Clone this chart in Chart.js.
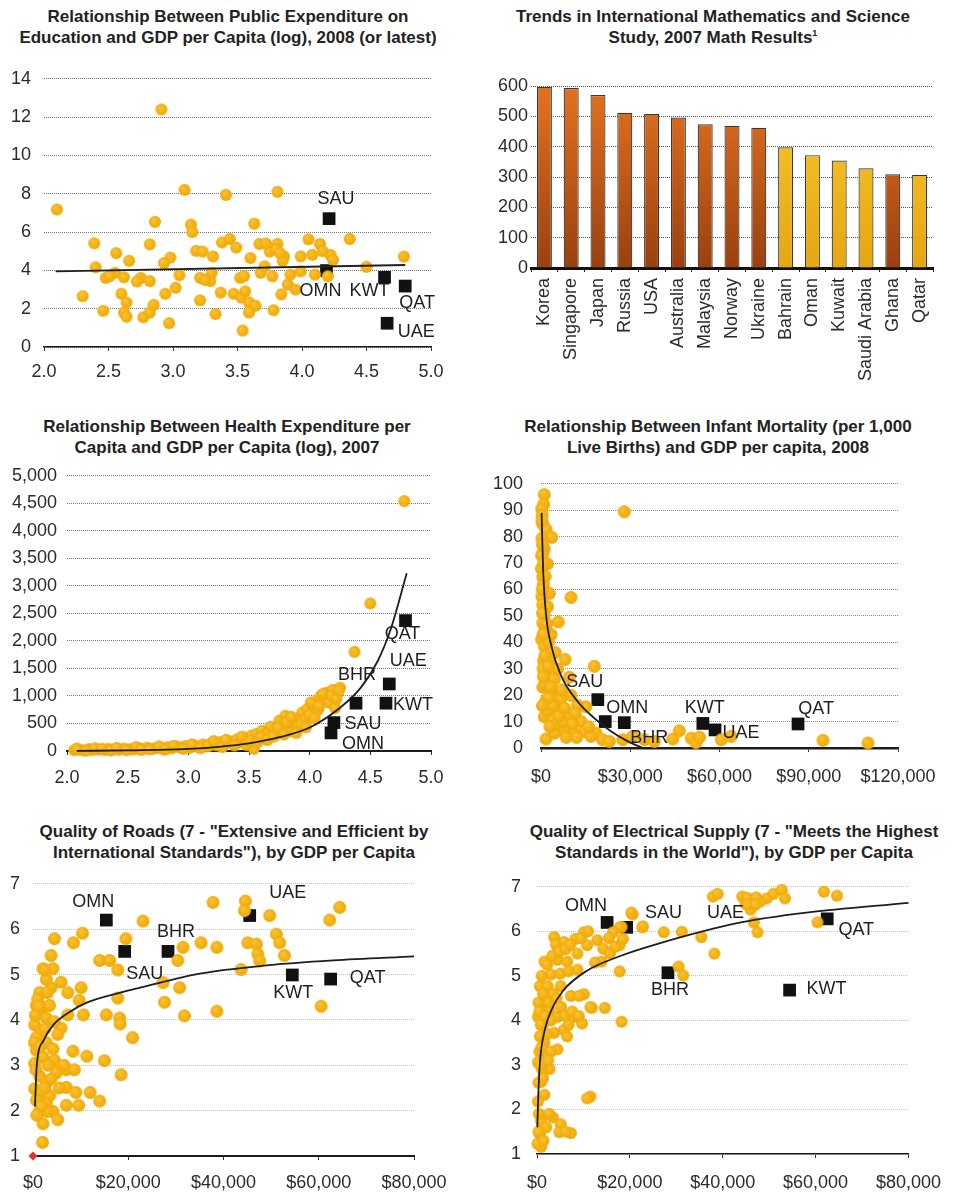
<!DOCTYPE html>
<html>
<head>
<meta charset="utf-8">
<title>GCC development indicators</title>
<script src="https://cdn.jsdelivr.net/npm/chart.js@4.4.0/dist/chart.umd.min.js"></script>
<style>
  html, body { margin: 0; padding: 0; background: #fff; }
  body { width: 955px; height: 1195px; position: relative; overflow: hidden;
         font-family: "Liberation Sans", Arial, Helvetica, sans-serif; }
  .title { position: absolute; width: 478px; text-align: center; font-weight: bold;
           font-size: 17px; line-height: 21px; color: #222; white-space: nowrap; }
  .title sup { font-size: 9px; line-height: 0; vertical-align: 7px; }
  canvas { position: absolute; }
</style>
</head>
<body>

<div class="title" style="left:-11px; top:6px;">Relationship Between Public Expenditure on<br>Education and GDP per Capita (log), 2008 (or latest)</div>
<div class="title" style="left:474px; top:6px;">Trends in International Mathematics and Science<br>Study, 2007 Math Results<sup>1</sup></div>
<div class="title" style="left:-12px; top:416px;">Relationship Between Health Expenditure per<br>Capita and GDP per Capita (log), 2007</div>
<div class="title" style="left:479px; top:416px;">Relationship Between Infant Mortality (per 1,000<br>Live Births) and GDP per capita, 2008</div>
<div class="title" style="left:-5px; top:821px;">Quality of Roads (7 - "Extensive and Efficient by<br>International Standards"), by GDP per Capita</div>
<div class="title" style="left:495px; top:821px;">Quality of Electrical Supply (7 - "Meets the Highest<br>Standards in the World"), by GDP per Capita</div>

<canvas id="edu"    width="478" height="345" style="left:0;     top:55px;"></canvas>
<canvas id="math"   width="477" height="345" style="left:478px; top:55px;"></canvas>
<canvas id="health" width="478" height="345" style="left:0;     top:455px;"></canvas>
<canvas id="mort"   width="477" height="345" style="left:478px; top:455px;"></canvas>
<canvas id="roads"  width="478" height="335" style="left:0;     top:860px;"></canvas>
<canvas id="power"  width="477" height="335" style="left:478px; top:860px;"></canvas>

<script>
// ---------------------------------------------------------------------------
// Data
// ---------------------------------------------------------------------------

// Public expenditure on education (% of GDP) vs log10 GDP per capita
const eduDots = [
  [2.10,7.18],[2.91,12.4],[3.09,8.2],[3.41,7.94],[3.81,8.1],[2.86,6.53],[3.14,6.39],[3.15,6.0],[3.63,6.44],[4.37,5.64],
  [2.39,5.41],[2.82,5.36],[3.38,5.46],[3.44,5.64],[3.49,5.19],[3.67,5.38],[3.81,5.38],[4.05,5.62],[4.14,5.38],[2.56,4.9],
  [2.66,4.5],[2.98,4.67],[3.18,5.02],[3.23,4.98],[3.31,4.73],[3.60,4.64],[3.75,4.98],[3.86,4.73],[3.99,4.73],[4.08,4.81],
  [4.22,4.81],[4.24,4.55],[4.79,4.72],[4.50,4.18],[2.40,4.16],[2.93,4.38],[2.48,3.61],[2.55,3.87],[2.62,3.64],[2.75,3.61],
  [2.82,3.44],[3.05,3.75],[3.21,3.61],[3.30,3.87],[3.29,3.44],[3.52,3.61],[3.68,3.87],[3.71,4.21],[3.77,3.69],[3.91,3.78],
  [3.99,3.95],[4.10,3.78],[4.20,3.69],[3.89,3.26],[3.95,3.0],[2.30,2.65],[2.60,2.78],[2.64,2.32],[2.94,2.78],[3.02,3.09],
  [3.37,2.84],[3.47,2.78],[3.53,2.58],[3.59,2.32],[3.64,2.15],[3.84,2.75],[3.21,2.44],[2.46,1.89],[2.62,1.80],[2.64,1.58],
  [2.77,1.55],[2.82,1.80],[2.85,2.20],[3.33,1.72],[3.59,1.80],[3.78,1.92],[2.97,1.24],[3.54,0.86],[3.56,2.90],[3.80,5.10],
  [3.85,4.50],[2.51,3.70],[2.72,3.42],[3.25,3.50],[3.55,3.70],[3.72,5.40],[3.83,4.90],[4.16,5.00]
];
const eduTrend = [[2.09,3.95],[4.80,4.28]];
const eduGccCodes = ['SAU','OMN','KWT','QAT','UAE'];
const eduGccX = [4.21, 4.19, 4.64, 4.80, 4.66];
const eduGccY = [6.70, 3.99, 3.64, 3.18, 1.24];

// TIMSS 2007 mathematics scores
const mathCountries = ['Korea','Singapore','Japan','Russia','USA','Australia','Malaysia','Norway','Ukraine',
                       'Bahrain','Oman','Kuwait','Saudi Arabia','Ghana','Qatar'];
const mathScores = [597, 593, 570, 512, 508, 496, 474, 469, 462, 398, 372, 354, 329, 309, 307];
const gccMembers = ['Bahrain','Oman','Kuwait','Saudi Arabia','Qatar'];

// Health expenditure per capita (USD) vs log10 GDP per capita
const healthDots = [
  [2.06,15],[2.09,28],[2.13,12],[2.18,35],[2.21,20],[2.26,26],[2.31,18],[2.34,40],[2.39,30],[2.43,22],
  [2.47,45],[2.52,33],[2.55,27],[2.59,50],[2.63,38],[2.66,60],[2.71,42],[2.74,55],[2.79,35],[2.83,70],
  [2.86,48],[2.91,80],[2.94,62],[2.98,90],[3.01,55],[3.05,100],[3.08,75],[3.12,120],[3.15,85],[3.19,140],
  [3.23,105],[3.26,160],[3.29,120],[3.33,185],[3.36,140],[3.40,210],[3.43,160],[3.46,240],[3.49,200],[3.52,280],
  [3.54,40],[3.56,310],[3.58,230],[3.61,370],[3.63,290],[3.66,330],[3.68,440],[3.71,380],[3.73,300],[3.75,550],
  [3.77,470],[3.80,640],[3.82,420],[3.84,360],[3.86,500],[3.88,560],[3.90,450],[3.92,620],[3.94,700],[3.96,560],
  [3.98,760],[4.00,650],[4.03,820],[4.05,900],[4.07,750],[4.09,1000],[4.12,960],[4.14,1060],[4.16,880],[4.19,1110],
  [4.21,780],[4.23,1050],[4.25,1150],[4.37,1800],[4.50,2680],[4.78,4540],
  [2.08,45],[2.16,8],[2.23,50],[2.29,40],[2.36,10],[2.41,55],[2.49,15],[2.57,70],[2.61,20],[2.68,30],
  [2.76,85],[2.81,25],[2.88,95],[2.96,40],[3.03,120],[3.10,50],[3.17,95],[3.21,180],[3.28,70],[3.31,200],
  [3.38,100],[3.44,260],[3.48,110],[3.51,180],[3.57,160],[3.60,250],[3.65,200],[3.70,260],[3.74,420],[3.79,300],
  [3.81,520],[3.85,620],[3.89,330],[3.93,480],[3.97,430],[4.01,880],[4.04,600],[4.08,820],[4.11,1040],[4.18,1000],
  [4.22,950],[4.24,1100]
];
const healthTrend = [[2.08,2],[2.5,10],[3.0,38],[3.25,75],[3.5,138],[3.75,250],[4.0,426],[4.25,786],
                     [4.42,1146],[4.56,1631],[4.67,2225],[4.80,3230]];
const healthGccCodes = ['QAT','UAE','KWT','BHR','SAU','OMN'];
const healthGccX = [4.79, 4.656, 4.629, 4.382, 4.20, 4.176];
const healthGccY = [2369, 1218, 869, 869, 516, 329];

// Infant mortality (per 1,000 live births) vs GDP per capita (USD)
const mortDots = [
  [1100,95.9],[900,92.2],[250,90.5],[28000,89.4],[600,84.7],[1700,82.8],[3600,79.7],[300,79.3],[1100,75.3],[600,73.5],
  [2200,69.7],[150,67.9],[600,64.8],[200,72.9],[2800,58.5],[10100,57.0],[300,57.3],[600,54.2],[2200,53.5],[1100,50.4],
  [5800,47.7],[600,47.3],[3400,43.0],[200,41.1],[1100,38.6],[4800,36.1],[8100,33.5],[900,33.0],[17900,30.9],[1700,29.3],
  [5600,29.9],[9500,26.8],[2800,26.2],[600,23.0],[3900,21.8],[10100,19.9],[6700,18.7],[1700,18.1],[15100,15.6],[12300,16.2],
  [5600,14.3],[1100,11.8],[9000,11.8],[3900,10.6],[13500,10.0],[6700,6.8],[9500,7.5],[14600,6.2],[18500,5.6],[20700,3.1],
  [23000,2.5],[1700,3.4],[27500,3.1],[30800,4.4],[34800,3.1],[38100,2.5],[44300,3.4],[46500,6.5],[50500,3.7],[52100,2.1],
  [53300,4.1],[60600,3.1],[63900,4.4],[94800,2.9],[109900,1.9],[4500,5.6],[11200,5.6],[16800,4.4],
  [400,88],[800,62],[1400,45],[2500,40],[700,30],[3000,33],[1500,24],[4500,26],[7000,22],[2000,14],
  [8000,15],[11500,13],[5000,9],[7500,10],[3000,8],
  [300,86],[500,77],[900,70],[400,60],[1400,65],[500,51],[2000,47],[700,43],[1300,35],[2500,31],
  [800,27],[3200,23],[4000,16],[2600,19],[500,16],[6000,12],[10500,9],[12000,4],[8500,4],[16000,8]
];
const mortTrend = [[200,89],[700,67.9],[1700,50.4],[3400,39],[6700,27.5],[12300,17.6],[17900,11.3],
                   [23500,6.3],[29200,2.5],[34200,0]];
const mortGccCodes = ['SAU','OMN','BHR','KWT','UAE','QAT'];
const mortGccX = [19100, 21600, 28000, 54400, 58500, 86400];
const mortGccY = [18.3, 10.0, 9.6, 9.3, 6.85, 9.1];

// Quality of roads score (1-7) vs GDP per capita (USD)
const roadDots = [
  [37800,6.59],[44600,6.62],[44400,6.41],[64400,6.48],[62300,6.20],[49700,6.30],[23100,6.18],[10400,5.91],[4500,5.79],[8500,5.70],
  [19500,5.79],[3800,5.42],[2100,5.13],[4200,5.13],[14000,5.31],[16100,5.31],[17800,5.10],[31500,5.60],[35300,5.70],[38600,5.60],
  [30400,5.31],[45100,5.70],[46900,5.67],[47200,5.45],[47600,5.30],[51100,5.89],[51800,5.70],[52800,5.42],[43700,5.11],[27300,4.82],
  [30800,4.71],[3800,4.71],[5900,4.83],[7300,4.60],[10100,4.71],[9700,4.43],[17800,4.48],[27600,4.39],[60500,4.30],[38600,4.19],
  [31800,4.09],[15400,4.11],[18200,4.04],[18300,3.91],[7300,4.11],[10600,4.11],[20900,3.61],[5900,3.82],[8400,3.31],[11300,3.20],
  [15000,3.10],[18500,2.79],[7000,2.51],[9000,2.40],[12000,2.40],[14000,2.21],[7000,2.12],[9600,2.12],[4200,1.98],[5200,1.80],
  [2100,1.71],[2000,1.30],
  [700,4.32],[2100,4.28],[3500,4.32],[1000,4.14],[2800,4.04],[350,3.89],[1700,3.75],[4500,3.96],[5200,3.68],[700,3.61],
  [2800,3.50],[4200,3.36],[700,3.33],[2100,3.18],[4500,3.11],[350,3.04],[5900,2.97],[7000,2.90],[8700,2.90],[4900,2.83],
  [1400,2.76],[2800,2.62],[350,2.48],[1700,2.40],[3500,2.33],[700,2.23],[2800,2.16],[1400,1.98],[3100,1.98],[1400,4.60],
  [2800,4.89],[1000,4.46],
  [500,4.10],[1200,4.30],[300,3.50],[1500,3.40],[2500,3.80],[3200,3.00],[3800,2.70],[600,2.90],[1800,2.10],[2500,2.50],
  [5500,2.50],[6500,3.00],[800,1.90],[3000,4.60],[2500,5.10]
];
const roadTrend = [[420,2.09],[770,2.97],[2170,3.54],[4270,3.89],[7770,4.18],[11270,4.38],[18300,4.60],
                   [22500,4.71],[35000,5.02],[49000,5.20],[63000,5.31],[80000,5.40]];
const roadGccCodes = ['OMN','SAU','BHR','UAE','KWT','QAT'];
const roadGccX = [15400, 19250, 28350, 45500, 54450, 62500];
const roadGccY = [6.20, 5.51, 5.51, 6.30, 4.99, 4.90];
const roadOrigin = [[0, 1]];

// Quality of electricity supply score (1-7) vs GDP per capita (USD)
const powerDots = [
  [37900,6.78],[38900,6.84],[44200,6.78],[44900,6.62],[49500,6.74],[50900,6.84],[52700,6.93],[53400,6.74],[48100,6.67],[46000,6.49],
  [45300,6.75],[47200,6.76],[45400,6.60],[47100,6.60],
  [46700,6.20],[47500,5.98],[61800,6.89],[64600,6.80],[60400,6.20],[38200,5.50],[35400,5.87],[31200,5.99],[27300,5.98],[22700,6.09],
  [20600,6.38],[20300,6.42],[18200,6.10],[17800,6.09],[30500,5.21],[31500,5.01],[17800,5.10],[14300,5.61],[17800,5.69],[15700,5.50],
  [13900,5.32],[10100,5.98],[8300,5.83],[5800,5.76],[3700,5.87],[4100,5.70],[1600,5.32],[4400,5.36],[6500,5.32],[8700,5.14],
  [3000,5.03],[600,4.77],[2300,4.77],[5100,4.77],[7300,4.55],[10100,4.59],[11800,4.28],[14600,4.28],[18200,3.97],[9700,3.93],
  [8000,4.08],[5800,3.79],[6500,3.64],[4400,4.08],[200,4.08],[3700,3.72],[1600,3.50],[4400,3.35],[2700,2.91],[1600,3.20],
  [600,3.64],[200,3.06],[900,2.62],[1600,2.33],[11500,2.29],[3400,1.82],[5100,1.67],[4800,1.49],[7300,1.47],[200,2.18],
  [900,1.74],[600,1.45],[900,1.16],[100,1.23],[1600,4.37],[2700,4.23],[10800,5.69],[8700,5.50],[16400,5.98],[18500,5.83],
  [22800,6.11],[300,2.6],[500,3.3],[1200,3.9],[300,4.4],[2000,4.5],[1100,2.9],[400,1.9],[2000,1.6],[2200,5.25],
  [3300,5.45],[5000,5.05],[6800,5.10],[1000,5.0],[9100,4.55],[11500,4.30],[10800,2.25],
  [500,4.20],[800,3.90],[1300,4.60],[1800,4.10],[2500,4.40],[3000,4.00],[3500,4.60],[4200,4.50],[5200,4.30],[6000,4.10],
  [6800,3.90],[7600,4.20],[9000,4.10],[700,3.00],[1300,2.70],[1000,3.40],[2200,3.70],[3000,3.30],[2400,3.10],[4800,5.55],
  [6200,5.60],[7200,5.70],[9500,5.85],[11000,6.00],[12500,5.30],[13000,5.80],[15500,5.85],[16800,5.65],[300,1.50],[1400,1.30],
  [2600,1.90],[6200,1.50]
];
const powerTrend = [[70,1.60],[280,2.33],[630,3.06],[1690,3.79],[3100,4.23],[5560,4.66],[10500,5.10],
                    [17500,5.43],[26000,5.72],[43900,6.20],[58000,6.42],[80000,6.64]];
const powerGccCodes = ['OMN','SAU','UAE','BHR','KWT','QAT'];
const powerGccX = [15100, 19300, 46200, 28200, 54400, 62500];
const powerGccY = [6.20, 6.09, 6.69, 5.07, 4.68, 6.28];

// ---------------------------------------------------------------------------
// Shared look
// ---------------------------------------------------------------------------
const FONT = '"Liberation Sans", Arial, Helvetica, sans-serif';
Chart.defaults.font.family = FONT;
Chart.defaults.color = '#2b2b2b';

const toXY = arr => arr.map(p => ({ x: p[0], y: p[1] }));
const zipXY = (xs, ys) => xs.map((x, i) => ({ x: x, y: ys[i] }));
const fmtDec = v => Number(v).toFixed(1);
const fmtComma = v => Number(v).toLocaleString('en-US');
const fmtDollar = v => '$' + Number(v).toLocaleString('en-US');

// Small softly shaded marker used for the country dots
function ballImage(r) {
  const size = Math.ceil(r * 2 + 2);
  const c = document.createElement('canvas');
  c.width = c.height = size;
  const g = c.getContext('2d');
  const m = size / 2;
  const grad = g.createRadialGradient(m - r * 0.3, m - r * 0.35, r * 0.1, m, m, r);
  grad.addColorStop(0, '#f9c232');
  grad.addColorStop(0.7, '#f3b010');
  grad.addColorStop(1, '#efa90a');
  g.fillStyle = grad;
  g.beginPath();
  g.arc(m, m, r, 0, Math.PI * 2);
  g.fill();
  return c;
}

function baseOptions(box, area) {
  return {
    responsive: false,
    animation: false,
    events: [],
    layout: { padding: { left: 0, top: area.T - box.top, right: box.left + box.w - area.R, bottom: 0 } },
    plugins: { legend: { display: false }, tooltip: { enabled: false }, title: { display: false } }
  };
}

// Scatter panel: trend line on top, country dots, GCC squares underneath, code tags
function scatterPanel(id, box, area, s) {
  const yW = area.L - box.left;
  const xH = box.top + box.h - area.B;
  const options = baseOptions(box, area);
  options.scales = {
    x: {
      type: 'linear', min: s.xMin, max: s.xMax,
      afterFit: sc => { sc.height = xH; },
      ticks: { stepSize: s.xStep, autoSkip: false, maxRotation: 0, padding: s.xPad,
               font: { size: 18 }, color: '#2b2b2b', callback: s.xFmt },
      grid: { drawOnChartArea: false, drawTicks: true, tickLength: 4, color: '#333', lineWidth: 1 },
      border: { display: true, color: '#1c1c1c', width: s.axisWidth }
    },
    y: {
      type: 'linear', min: s.yMin, max: s.yMax,
      afterFit: sc => { sc.width = yW; },
      ticks: { stepSize: s.yStep, autoSkip: false, padding: s.yPad,
               font: { size: 18 }, color: '#2b2b2b', callback: s.yFmt },
      grid: { drawTicks: false, color: s.gridColor, lineWidth: 1 },
      border: { display: false, dash: [1, 1] }
    }
  };

  const datasets = [
    { type: 'line', data: toXY(s.trend), borderColor: '#1e1e1e', borderWidth: 1.8, pointRadius: 0,
      fill: false, cubicInterpolationMode: 'monotone', clip: false, order: 1 },
    { type: 'scatter', data: toXY(s.dots), pointStyle: ballImage(s.dotR), pointRadius: s.dotR,
      clip: false, order: 2 },
    { type: 'scatter', data: zipXY(s.gccX, s.gccY), pointStyle: 'rect', pointRadius: 9,
      backgroundColor: '#111', borderWidth: 0, clip: false, order: 3 }
  ];
  if (s.origin) {
    datasets.push({ type: 'scatter', data: toXY(s.origin), pointStyle: 'rectRot', pointRadius: 4.5,
      backgroundColor: '#e4342a', borderWidth: 0, clip: false, order: 0 });
  }

  const tagPlugin = {
    id: 'gccTags',
    afterDatasetsDraw(chart) {
      const meta = chart.getDatasetMeta(2);
      const ctx = chart.ctx;
      ctx.save();
      ctx.font = '18px ' + FONT;
      ctx.fillStyle = '#1e1e1e';
      ctx.textAlign = 'center';
      ctx.textBaseline = 'middle';
      s.gccCodes.forEach((code, i) => {
        const pt = meta.data[i];
        const off = s.tagOffsets[code];
        ctx.fillText(code, pt.x + off[0], pt.y + off[1]);
      });
      ctx.restore();
    }
  };

  return new Chart(document.getElementById(id), {
    type: 'scatter',
    data: { datasets: datasets },
    options: options,
    plugins: [tagPlugin]
  });
}

// ---------------------------------------------------------------------------
// Panels
// ---------------------------------------------------------------------------

scatterPanel('edu', { left: 0, top: 55, w: 478, h: 345 }, { L: 44, T: 75, R: 431, B: 347 }, {
  dots: eduDots, trend: eduTrend, gccCodes: eduGccCodes, gccX: eduGccX, gccY: eduGccY,
  xMin: 2, xMax: 5, xStep: 0.5, xFmt: fmtDec, xPad: 10,
  yMin: 0, yMax: 14, yStep: 2, yFmt: v => v, yPad: 13,
  gridColor: '#7a7a7a', axisWidth: 1.5, dotR: 6,
  tagOffsets: { SAU: [7, -20], OMN: [-6, 20], KWT: [-15, 14], QAT: [12, 17], UAE: [29, 9] }
});

scatterPanel('health', { left: 0, top: 455, w: 478, h: 345 }, { L: 67, T: 473, R: 431, B: 751 }, {
  dots: healthDots, trend: healthTrend, gccCodes: healthGccCodes, gccX: healthGccX, gccY: healthGccY,
  xMin: 2, xMax: 5, xStep: 0.5, xFmt: fmtDec, xPad: 12,
  yMin: 0, yMax: 5000, yStep: 500, yFmt: fmtComma, yPad: 10,
  gridColor: '#7a7a7a', axisWidth: 2, dotR: 6,
  tagOffsets: { QAT: [-3, 13], UAE: [19, -23], KWT: [27, 2], BHR: [1, -28], SAU: [29, 1], OMN: [32, 11] }
});

scatterPanel('mort', { left: 478, top: 455, w: 477, h: 345 }, { L: 541, T: 481, R: 898, B: 748 }, {
  dots: mortDots, trend: mortTrend, gccCodes: mortGccCodes, gccX: mortGccX, gccY: mortGccY,
  xMin: 0, xMax: 120000, xStep: 30000, xFmt: fmtDollar, xPad: 14,
  yMin: 0, yMax: 100, yStep: 10, yFmt: v => v, yPad: 18,
  gridColor: '#8a8a8a', axisWidth: 2.5, dotR: 6.5,
  tagOffsets: { SAU: [-13, -18], OMN: [22, -14], BHR: [25, 15], KWT: [2, -15], UAE: [26, 3], QAT: [18, -15] }
});

scatterPanel('roads', { left: 0, top: 860, w: 478, h: 335 }, { L: 33, T: 874, R: 414, B: 1156 }, {
  dots: roadDots, trend: roadTrend, gccCodes: roadGccCodes, gccX: roadGccX, gccY: roadGccY, origin: roadOrigin,
  xMin: 0, xMax: 80000, xStep: 20000, xFmt: fmtDollar, xPad: 12,
  yMin: 1, yMax: 7, yStep: 1, yFmt: v => v, yPad: 13,
  gridColor: '#c4c4c4', axisWidth: 2, dotR: 6.5,
  tagOffsets: { OMN: [-13, -18], SAU: [20, 23], BHR: [8, -19], UAE: [38, -23], KWT: [1, 18], QAT: [37, -1] }
});

scatterPanel('power', { left: 478, top: 860, w: 477, h: 335 }, { L: 537, T: 880, R: 916, B: 1154 }, {
  dots: powerDots, trend: powerTrend, gccCodes: powerGccCodes, gccX: powerGccX, gccY: powerGccY,
  xMin: 0, xMax: 80000, xStep: 20000, xFmt: fmtDollar, xPad: 14,
  yMin: 1, yMax: 7, yStep: 1, yFmt: v => v, yPad: 16,
  gridColor: '#c4c4c4', axisWidth: 1.5, dotR: 6,
  tagOffsets: { OMN: [-21, -16], SAU: [37, -14], UAE: [-26, 12], BHR: [2, 17], KWT: [37, -1], QAT: [29, 11] }
});

// TIMSS bar chart
(function () {
  const box = { left: 478, top: 55, w: 477, h: 345 };
  const area = { L: 531, T: 86, R: 933, B: 268 };
  const yW = area.L - box.left;
  const xH = box.top + box.h - area.B;
  const options = baseOptions(box, area);

  function barFill(ctx) {
    const chart = ctx.chart;
    const a = chart.chartArea;
    const gcc = gccMembers.includes(mathCountries[ctx.dataIndex]);
    if (!a) return gcc ? '#f2b81c' : '#c85a1a';
    const g = chart.ctx.createLinearGradient(0, a.top, 0, a.bottom);
    if (gcc) {
      g.addColorStop(0, '#f8c92e');
      g.addColorStop(1, '#e6a60f');
    } else {
      g.addColorStop(0, '#e3721f');
      g.addColorStop(1, '#9a4010');
    }
    return g;
  }

  options.scales = {
    x: {
      afterFit: sc => { sc.height = xH; },
      ticks: { autoSkip: false, minRotation: 90, maxRotation: 90, padding: 6,
               font: { size: 18 }, color: '#2b2b2b' },
      grid: { drawOnChartArea: false, drawTicks: true, tickLength: 4, color: '#222', offset: true },
      border: { display: true, color: '#111', width: 3 }
    },
    y: {
      min: 0, max: 600,
      afterFit: sc => { sc.width = yW; },
      ticks: { stepSize: 100, padding: 3, font: { size: 18 }, color: '#2b2b2b' },
      grid: { drawTicks: false, color: '#555', lineWidth: 1 },
      border: { display: false, dash: [1, 1] }
    }
  };

  new Chart(document.getElementById('math'), {
    type: 'bar',
    data: {
      labels: mathCountries,
      datasets: [{
        data: mathScores,
        backgroundColor: barFill,
        borderColor: '#383838',
        borderWidth: 1.2,
        barPercentage: 0.56,
        categoryPercentage: 1.0
      }]
    },
    options: options
  });
})();
</script>
</body>
</html>
